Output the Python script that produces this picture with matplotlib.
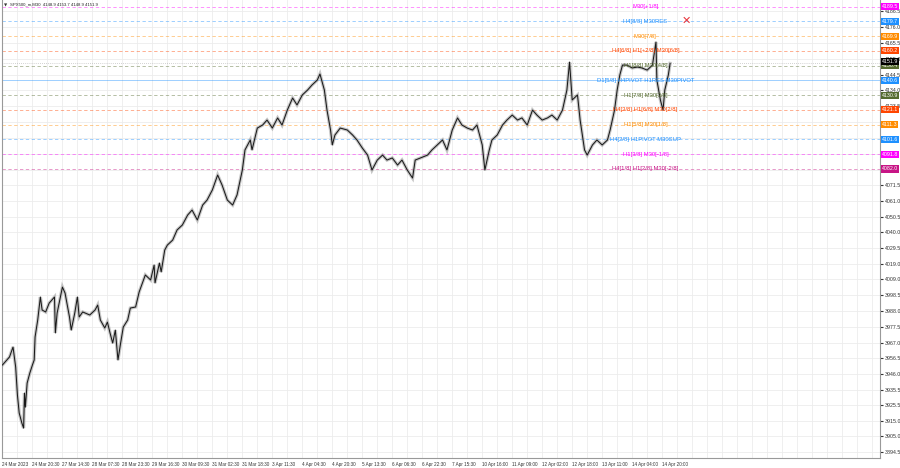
import matplotlib
matplotlib.use("Agg")
import matplotlib.pyplot as plt
from matplotlib.ticker import FixedLocator, MultipleLocator

plt.rcParams['font.family'] = ['Liberation Sans', 'DejaVu Sans']

# price path (bar index on M30, price)
bars = [0, 8, 12, 15, 17, 19, 22, 24, 25, 26, 28, 31, 34, 36, 37, 40, 43, 45, 49, 53,
        59, 60, 62, 68, 71, 76, 78, 82, 85, 87, 91, 99, 105, 108, 111, 116, 119, 122, 125, 128,
        130, 131, 134, 137, 142, 145, 151, 155, 162, 168, 172, 173, 178, 180, 184, 187, 193, 198, 204, 210,
        215, 221, 227, 232, 238, 244, 249, 255, 261, 266, 272, 275, 281, 283, 289, 295, 300, 306, 312, 317,
        323, 329, 334, 340, 346, 351, 357, 360, 365, 368, 372, 374, 377, 383, 391, 397, 402, 408, 414, 419,
        425, 431, 436, 442, 448, 453, 459, 465, 468, 474, 482, 487, 493, 499, 504, 510, 516, 521, 527, 533,
        538, 544, 547, 552, 555, 561, 567, 572, 578, 584, 589, 595, 601, 606, 612, 618, 623, 629, 635, 640,
        643, 646, 652, 655, 660, 663, 669, 674, 680, 686, 689, 694, 697, 700, 703, 708, 714, 720, 725, 731,
        737, 741, 742, 746, 749, 751, 755, 757]
close = [3952.2, 3957.5, 3964.1, 3950.8, 3932.3, 3920.4, 3913.8, 3910.4, 3933.6, 3924.3,
         3940.2, 3946.8, 3952.2, 3955.5, 3970.7, 3982.0, 3997.2, 3988.6, 3987.3, 3993.2,
         3997.2, 3973.4, 3986.6, 4003.8, 3999.8, 3984.0, 3975.3, 3986.6, 3997.2, 3984.0,
         3987.3, 3985.3, 3988.6, 3991.9, 3982.0, 3976.7, 3980.6, 3973.4, 3966.7, 3975.3,
         3962.1, 3955.5, 3966.7, 3977.3, 3982.0, 3989.9, 3990.6, 4000.5, 4011.8, 4008.5,
         4018.4, 4006.5, 4019.7, 4013.8, 4028.3, 4031.6, 4034.9, 4041.6, 4044.9, 4051.5,
         4054.8, 4048.2, 4058.1, 4061.4, 4068.1, 4078.0, 4071.4, 4061.4, 4058.1, 4064.8,
         4081.3, 4094.6, 4101.2, 4094.6, 4109.1, 4111.1, 4114.4, 4109.1, 4115.8, 4111.1,
         4121.0, 4129.0, 4124.4, 4131.0, 4134.3, 4137.6, 4140.9, 4144.9, 4134.3, 4121.0,
         4107.8, 4097.9, 4104.5, 4109.1, 4107.8, 4104.5, 4101.2, 4095.9, 4091.2, 4081.3,
         4087.9, 4091.2, 4087.9, 4089.3, 4084.6, 4087.9, 4081.3, 4076.0, 4087.9, 4089.3,
         4091.2, 4094.6, 4097.9, 4101.2, 4094.6, 4107.8, 4115.8, 4111.1, 4109.1, 4107.8,
         4111.1, 4097.9, 4081.3, 4094.6, 4101.2, 4104.5, 4111.1, 4114.4, 4117.7, 4114.4,
         4115.8, 4111.1, 4121.0, 4117.7, 4114.4, 4115.8, 4117.7, 4114.4, 4121.0, 4134.3,
         4152.8, 4127.7, 4131.0, 4114.4, 4094.6, 4091.2, 4097.9, 4101.2, 4097.9, 4101.2,
         4107.8, 4121.0, 4134.3, 4144.2, 4150.8, 4150.8, 4148.9, 4149.5, 4148.9, 4147.5,
         4150.8, 4166.1, 4140.9, 4127.7, 4121.0, 4134.3, 4144.2, 4151.9]

# murrey / pivot levels
level_values = [4189.5, 4179.7, 4169.9, 4160.2, 4150.4, 4140.6, 4130.9, 4121.1,
                4111.3, 4101.6, 4091.8, 4082.0]
level_names = ["M30[+1/8]", "H4[8/8] M30RES", "M30[7/8]", "H4[6/8] H1[+2/8] M30[6/8]",
               "H1[8/8] M30[4/8]", "D1[5/8] H4PIVOT H1RES M30PIVOT", "H1[7/8] M30[3/8]",
               "H4[3/8] H1[6/8] M30[2/8]", "H1[5/8] M30[1/8]", "H4[2/8] H1PIVOT M30SUP",
               "H1[3/8] M30[-1/8]", "H4[1/8] H1[2/8] M30[-2/8]"]
level_colors = ["#ff00ff", "#1e90ff", "#ff8c00", "#ff4500", "#556b2f", "#1e90ff",
                "#556b2f", "#ff4500", "#ff8c00", "#1e90ff", "#ff00ff", "#c71585"]
last_price = 4151.9

y_ticks = [4186.5, 4176.0, 4165.5, 4155.0, 4144.5, 4134.0, 4123.5, 4113.0, 4102.5, 4092.0,
           4081.5, 4071.5, 4061.0, 4050.5, 4040.0, 4029.5, 4019.0, 4009.0, 3998.5, 3988.0,
           3977.5, 3967.0, 3956.5, 3946.0, 3935.5, 3925.5, 3915.0, 3905.0, 3894.5]
x_labels = ["24 Mar 2023", "24 Mar 20:30", "27 Mar 14:30", "28 Mar 07:30", "28 Mar 23:30",
            "29 Mar 16:30", "30 Mar 09:30", "31 Mar 02:30", "31 Mar 18:30", "3 Apr 11:30",
            "4 Apr 04:30", "4 Apr 20:30", "5 Apr 13:30", "6 Apr 06:30", "6 Apr 22:30",
            "7 Apr 15:30", "10 Apr 16:00", "11 Apr 09:00", "12 Apr 02:00", "12 Apr 18:00",
            "13 Apr 11:00", "14 Apr 04:00", "14 Apr 20:00"]
bars_per_label = 34

fig = plt.figure(figsize=(9, 4.68), dpi=100)
ax = fig.add_axes([2 / 900, 10 / 468, 878 / 900, 458 / 468])
ax.set_xlim(-0.5, 995)
ax.set_ylim(3890.6, 4193.9)

# grid
ax.yaxis.set_major_locator(FixedLocator(y_ticks))
ax.xaxis.set_major_locator(FixedLocator([i * bars_per_label for i in range(len(x_labels))]))
ax.xaxis.set_minor_locator(MultipleLocator(bars_per_label / 2))
ax.grid(True, which="both", color="#ececec", lw=0.6)
ax.set_axisbelow(True)

# levels
for v, name, c in zip(level_values, level_names, level_colors):
    ls = "-" if name.startswith("D1") else (0, (4, 3))
    ax.axhline(v, color=c, lw=0.6, ls=ls, alpha=0.5, zorder=1)
    ax.text(729, v, name, color=c, fontsize=4.2, ha="center", va="center", zorder=4)
    ax.text(1.002, v, f"{v:.1f}", transform=ax.get_yaxis_transform(), color="white",
            fontsize=3.8, ha="left", va="center", zorder=6,
            bbox=dict(boxstyle="square,pad=0.2", fc=c, ec="none"))
ax.axhline(last_price, color="#aaaaaa", lw=0.5, ls=(0, (1, 2)), zorder=1)
ax.text(1.002, last_price + 1.2, f"{last_price:.1f}", transform=ax.get_yaxis_transform(),
        color="white", fontsize=3.8, ha="left", va="center", zorder=7,
        bbox=dict(boxstyle="square,pad=0.2", fc="black", ec="none"))

# price
ax.plot(bars, close, color="#9a9a9a", lw=2.4, alpha=0.55, zorder=2, solid_joinstyle="miter")
ax.plot(bars, close, color="#1a1a1a", lw=0.75, zorder=3)

# axes styling; tick labels hidden under a price box are left blank
ax.yaxis.tick_right()
ax.set_yticklabels(["" if any(abs(t - v) < 2 for v in level_values) else f"{t:.1f}"
                    for t in y_ticks])
ax.set_xticklabels(x_labels, ha="left")
ax.tick_params(axis="y", labelsize=3.8, length=2, pad=1.5, colors="#333333")
ax.tick_params(axis="x", labelsize=3.3, length=0, pad=3, colors="#333333")
ax.tick_params(which="minor", length=0)
for s in ["left", "right", "bottom"]:
    ax.spines[s].set_color("#999999")
    ax.spines[s].set_linewidth(0.8)
ax.spines["top"].set_visible(False)

# header and marks
ax.text(0.002, 0.993, "\u25bc", transform=ax.transAxes, fontsize=3.0, va="top",
        color="#333", family="DejaVu Sans")
ax.text(0.009, 0.994, "SPX500_m,M30  4148.9 4153.7 4148.9 4151.9", transform=ax.transAxes,
        fontsize=3.1, va="top", color="#222")
ax.text(0.779, 0.955, "\u2715", transform=ax.transAxes, fontsize=8, fontweight="bold",
        color="#e8333a", ha="center", va="center", family="DejaVu Sans")

fig.savefig("out.png", dpi=100)
